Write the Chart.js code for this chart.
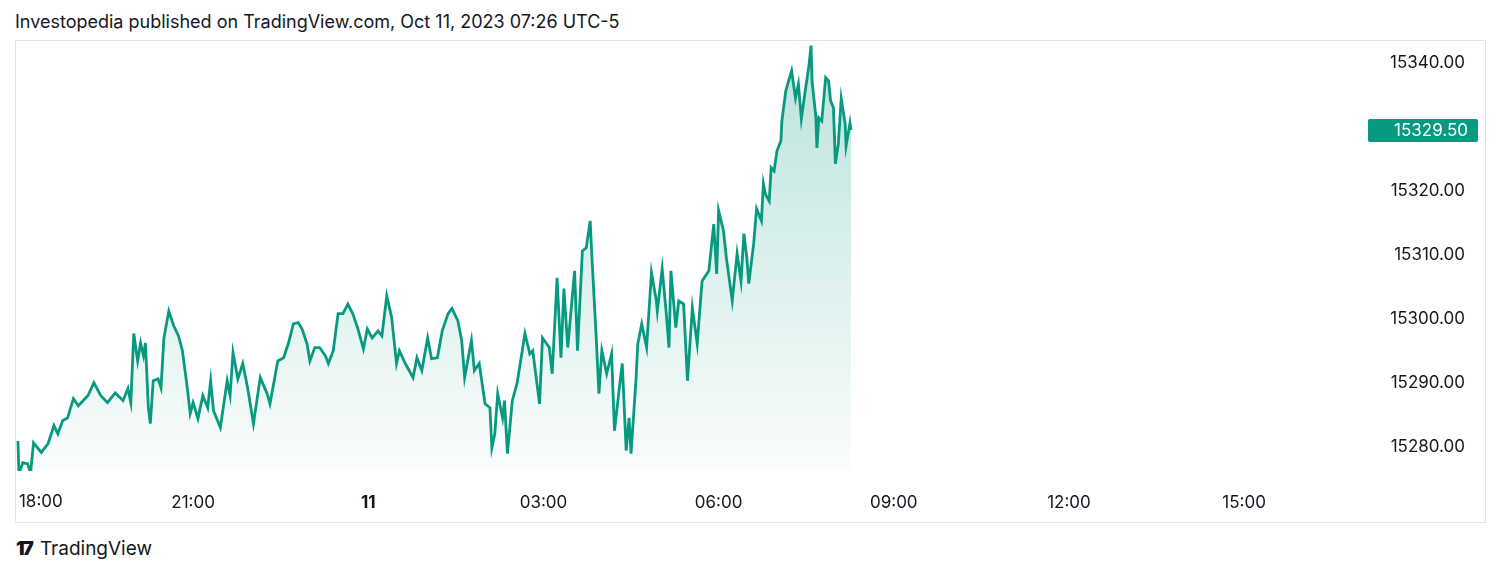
<!DOCTYPE html>
<html>
<head>
<meta charset="UTF-8">
<title>Nasdaq futures</title>
<script src="https://cdn.jsdelivr.net/npm/chart.js"></script>
<style>
    body { margin: 0; background: #fff; font-family: Inter, "Noto Sans", sans-serif; color: #131722; }
    #title { position: absolute; left: 15px; top: 11px; font-size: 18px; }
    #box { position: absolute; left: 15px; top: 40px; width: 1469px; height: 481px; border: 1px solid #e0e3eb; }
    #footer { position: absolute; left: 16px; top: 537px; font-size: 19px; display: flex; align-items: center; }
    #logo { font-weight: 900; font-size: 19px; letter-spacing: -2px; margin-right: 8px; }
</style>
</head>
<body>
<div id="title">Investopedia published on TradingView.com, Oct 11, 2023 07:26 UTC-5</div>
<div id="box"><canvas id="priceChart" width="1469" height="481"></canvas></div>
<div id="footer"><span id="logo">17</span>TradingView</div>
<script>
// minutes after 18:00 (Oct 10)
var minutes = [0,1,5,10,13,16,24,31,37,41,46,51,57,62,72,78,85,92,100,108,113,116,119,123,126,129,131,134,136,139,144,147,150,155,160,165,169,174,177,180,185,190,195,198,201,208,215,218,221,226,231,236,242,249,256,259,262,267,273,278,283,288,292,297,300,305,310,316,319,324,329,334,339,344,349,355,359,364,370,374,379,384,389,392,398,406,410,415,421,425,431,436,442,446,452,456,459,466,469,474,480,485,487,490,493,498,500,503,508,513,521,526,529,536,539,546,549,554,558,561,565,572,575,580,584,588,590,594,597,600,605,610,613,618,621,625,628,630,635,637,641,646,651,656,657,662,666,669,671,676,679,684,688,693,698,703,710,715,718,720,725,728,734,739,743,746,749,751,756,759,764,766,768,772,774,777,780,784,785,789,792,795,799,802,805,809,813,815,816,820,821,823,826,830,833,835,838,840,843,846,850,851,855,856];
var prices = [15280.9,15275.8,15277.5,15277.3,15275.9,15280.6,15279.1,15280.5,15283.3,15282.0,15284.1,15284.5,15287.5,15286.4,15288.0,15290.0,15288.0,15286.9,15288.4,15287.2,15289.1,15286.9,15297.7,15293.4,15296.2,15294.2,15296.2,15286.1,15283.6,15290.3,15290.6,15289.2,15297.0,15301.2,15298.9,15297.3,15295.0,15289.2,15285.2,15286.9,15284.4,15288.0,15286.1,15290.3,15285.6,15283.0,15290.3,15288.0,15294.7,15290.6,15293.0,15289.2,15283.6,15290.8,15288.3,15286.7,15289.2,15293.4,15293.9,15296.2,15299.2,15299.4,15298.4,15296.1,15293.4,15295.5,15295.5,15294.2,15293.0,15295.0,15300.8,15300.8,15302.3,15300.8,15298.6,15295.3,15298.4,15297.0,15298.1,15297.3,15303.6,15300.2,15293.0,15295.0,15293.0,15290.8,15293.9,15291.9,15297.0,15293.75,15293.9,15298.1,15300.8,15301.6,15299.7,15296.6,15290.8,15296.6,15291.9,15293.0,15286.7,15286.1,15279.8,15282.0,15288.3,15284.5,15287.2,15278.9,15287.2,15290.0,15297.7,15294.5,15295.0,15286.7,15297.0,15295.5,15291.4,15306.4,15293.9,15304.7,15295.5,15307.5,15295.0,15310.6,15311.1,15315.3,15309.1,15297.7,15288.3,15295.0,15291.4,15294.5,15282.5,15289.2,15293.0,15279.4,15284.5,15278.9,15290.3,15296.1,15299.2,15295.5,15307.2,15302.8,15301.2,15307.8,15301.2,15295.5,15307.5,15298.6,15302.8,15302.3,15290.3,15301.7,15296.1,15305.9,15307.5,15314.8,15307.0,15316.9,15313.75,15309.5,15302.8,15310.2,15305.9,15313.3,15309.5,15305.5,15311.7,15317.2,15315.3,15321.1,15319.5,15318.4,15323.6,15323.1,15326.25,15327.8,15330.9,15335.6,15337.2,15338.75,15334.5,15336.7,15331.25,15335.6,15339.8,15342.7,15337.2,15331.4,15326.7,15331.4,15330.9,15337.7,15337.2,15334.1,15333.0,15324.2,15327.3,15334.4,15330.5,15327.0,15330.6,15329.5];
var timeTicks = [0,180,360,540,720,900,1080,1260];
var timeLabels = ['18:00','21:00','11','03:00','06:00','09:00','12:00','15:00'];
var priceTicks = [15280,15290,15300,15310,15320,15330,15340];
var lastPrice = 15329.5;

var green = '#089981';
var fontFamily = 'Inter, "Noto Sans", sans-serif';

// green price tag on the right axis, and the first time label (left aligned, like TradingView)
var extras = {
    id: 'extras',
    afterDraw: function(chart) {
        var c = chart.ctx;
        var y = chart.scales.y.getPixelForValue(lastPrice);
        c.save();
        c.fillStyle = green;
        c.beginPath();
        c.roundRect(1352, y - 11, 110, 23, 2);
        c.fill();
        c.fillStyle = '#fff';
        c.font = '17px ' + fontFamily;
        c.textAlign = 'right';
        c.textBaseline = 'middle';
        c.fillText(lastPrice.toFixed(2), 1452, y + 1);

        c.fillStyle = '#131722';
        c.textAlign = 'left';
        c.fillText(timeLabels[0], chart.scales.x.getPixelForValue(timeTicks[0]) + 1, 461);
        c.restore();
    }
};

var ctx = document.getElementById('priceChart').getContext('2d');
var grad = ctx.createLinearGradient(0, 2, 0, 430);
grad.addColorStop(0, 'rgba(8,153,129,0.28)');
grad.addColorStop(1, 'rgba(8,153,129,0.02)');

var chart = new Chart(ctx, {
    type: 'line',
    data: {
        datasets: [{
            data: minutes.map(function(m, i) { return { x: m, y: prices[i] }; }),
            borderColor: green,
            borderWidth: 2.8,
            backgroundColor: grad,
            fill: 'start',
            pointRadius: 0,
            tension: 0
        }]
    },
    options: {
        responsive: false,
        animation: false,
        layout: { padding: { top: 2, right: 20, left: 0, bottom: 0 } },
        plugins: { legend: { display: false }, tooltip: { enabled: false } },
        scales: {
            x: {
                type: 'linear',
                min: -2,
                max: 1376,
                grid: { display: false },
                border: { display: false },
                afterBuildTicks: function(s) { s.ticks = timeTicks.map(function(v) { return { value: v }; }); },
                afterFit: function(s) { s.height = 51; s.paddingLeft = 0; s.paddingRight = 0; },
                ticks: {
                    autoSkip: false,
                    maxRotation: 0,
                    padding: 14,
                    color: '#131722',
                    font: function(c) {
                        return { family: fontFamily, size: 17, weight: (c.tick && c.tick.value === 360) ? 'bold' : 'normal' };
                    },
                    // first label is drawn by the plugin
                    callback: function(v) { return v === 0 ? '' : timeLabels[timeTicks.indexOf(v)]; }
                }
            },
            y: {
                position: 'right',
                min: 15276.2,
                max: 15343.1,
                grid: { display: false },
                border: { display: false },
                afterBuildTicks: function(s) { s.ticks = priceTicks.map(function(v) { return { value: v }; }); },
                afterFit: function(s) { s.width = 108; s.paddingTop = 0; s.paddingBottom = 0; },
                ticks: {
                    crossAlign: 'far',
                    color: '#131722',
                    font: { family: fontFamily, size: 17 },
                    callback: function(v) { return v.toFixed(2); }
                }
            }
        }
    },
    plugins: [extras]
});
</script>
</body>
</html>
